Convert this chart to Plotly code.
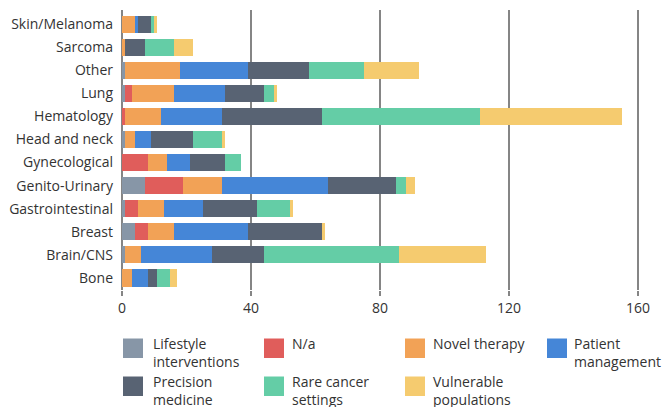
import plotly.graph_objects as go

# Cancer areas, listed top to bottom
categories = ["Skin/Melanoma", "Sarcoma", "Other", "Lung", "Hematology", "Head and neck",
              "Gynecological", "Genito-Urinary", "Gastrointestinal", "Breast", "Brain/CNS", "Bone"]

# Count of projects per theme in each cancer area
lifestyle = [0, 0, 1, 1, 0, 1, 0, 7, 1, 4, 1, 0]
not_applicable = [0, 0, 0, 2, 1, 0, 8, 12, 4, 4, 0, 0]
novel_therapy = [4, 1, 17, 13, 11, 3, 6, 12, 8, 8, 5, 3]
patient_mgmt = [1, 0, 21, 16, 19, 5, 7, 33, 12, 23, 22, 5]
precision_med = [4, 6, 19, 12, 31, 13, 11, 21, 17, 23, 16, 3]
rare_cancer = [1, 9, 17, 3, 49, 9, 5, 3, 10, 0, 42, 4]
vulnerable = [1, 6, 17, 1, 44, 1, 0, 3, 1, 1, 27, 2]

series_names = ["Lifestyle interventions", "N/a", "Novel therapy", "Patient management",
                "Precision medicine", "Rare cancer settings", "Vulnerable populations"]
series_values = [lifestyle, not_applicable, novel_therapy, patient_mgmt,
                 precision_med, rare_cancer, vulnerable]
series_colors = ["#8796a7", "#e05d5b", "#f2a256", "#4586d7", "#586373", "#64cda6", "#f5cb6f"]

x_ticks = [0, 40, 80, 120, 160]

W, H = 663, 407
M_L, M_R, M_T, M_B = 122, 9, 10, 117
PLOT_W = W - M_L - M_R
PLOT_H = H - M_T - M_B
FONT = "Open Sans, Noto Sans, sans-serif"
TEXT = "#333333"
FS = 14

fig = go.Figure()
for name, vals, col in zip(series_names, series_values, series_colors):
    fig.add_trace(go.Bar(
        y=categories, x=vals, name=name, orientation="h",
        marker=dict(color=col, line=dict(width=0)),
        showlegend=False,
    ))

fig.update_layout(
    width=W, height=H,
    margin=dict(l=M_L, r=M_R, t=M_T, b=M_B),
    barmode="stack", bargap=0.26,
    plot_bgcolor="white", paper_bgcolor="white",
    font=dict(family=FONT, size=FS, color=TEXT),
)
fig.update_xaxes(
    range=[0, PLOT_W / 3.225], tickvals=x_ticks,
    showgrid=True, gridcolor="#858585", gridwidth=1.6,
    zeroline=True, zerolinecolor="#858585", zerolinewidth=1.6,
    ticks="outside", ticklen=5, tickcolor="#858585", tickwidth=1.6,
    showline=False, tickfont=dict(size=FS, color=TEXT),
)
fig.update_yaxes(
    range=[11.52, -0.61], showgrid=False, zeroline=False, showline=False,
    ticks="", ticklabelstandoff=8, tickfont=dict(size=FS, color=TEXT),
)

# Legend: four columns, two rows of square swatches with wrapped labels
def px_x(px):
    return (px - M_L) / PLOT_W


def px_y(py):
    return (M_T + PLOT_H - py) / PLOT_H


legend_labels = ["Lifestyle<br>interventions", "N/a", "Novel therapy", "Patient<br>management",
                 "Precision<br>medicine", "Rare cancer<br>settings", "Vulnerable<br>populations"]
swatch_x = [123, 264, 405, 547]
label_x = [150.5, 290, 430.5, 571.5]
row_y = [338.5, 376.5]
sw = 20
for i, (lab, col) in enumerate(zip(legend_labels, series_colors)):
    r, c = divmod(i, 4)
    x0, y0 = swatch_x[c], row_y[r]
    fig.add_shape(type="rect", xref="paper", yref="paper",
                  x0=px_x(x0), x1=px_x(x0 + sw), y0=px_y(y0), y1=px_y(y0 + 19.5),
                  fillcolor=col, line=dict(width=0))
    fig.add_annotation(xref="paper", yref="paper", x=px_x(label_x[c]), y=px_y(y0 - 6.5),
                       xanchor="left", yanchor="top", align="left", showarrow=False,
                       text=lab, font=dict(size=FS, color=TEXT, family=FONT))

fig.write_html("out.html")
